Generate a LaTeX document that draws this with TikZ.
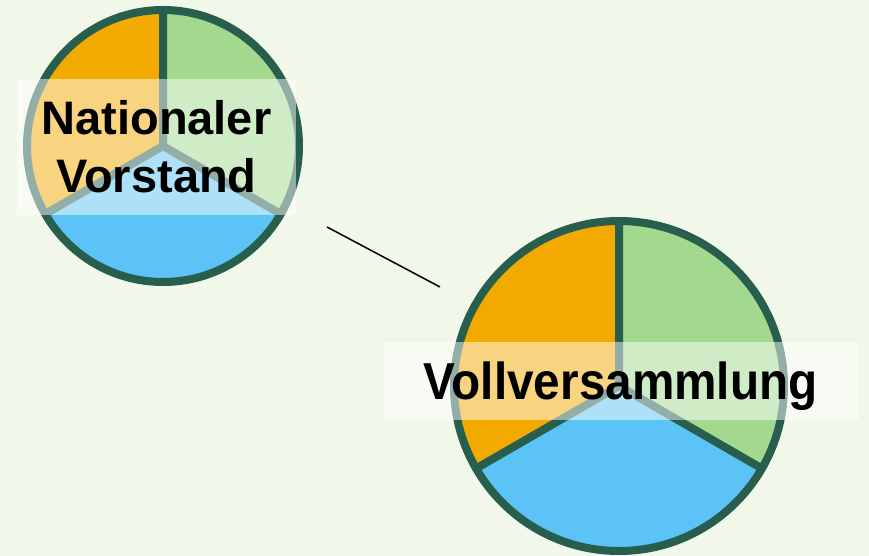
\documentclass[tikz,border=0pt]{standalone}
\usepackage{fontspec}
\setmainfont{Liberation Sans}
\definecolor{bg}{HTML}{F1F8E9}
\definecolor{pieorange}{HTML}{F2AA00}
\definecolor{piegreen}{HTML}{A2D98E}
\definecolor{pieblue}{HTML}{5BC3F5}
\definecolor{pieline}{HTML}{275E4D}
\tikzset{
  rim/.style={draw=pieline, line width=8pt},
  labelbox/.style={fill=white, fill opacity=0.5, text opacity=1, inner sep=0pt,
    align=center, font=\fontsize{47}{58}\selectfont\bfseries},
  labeltext/.style={inner sep=0pt, font=\fontsize{47.7}{58}\selectfont\bfseries},
  link/.style={draw=black, line width=1.5pt}
}
\newcommand{\pie}[3]{% name, center, radius
  \coordinate (#1) at #2;
  \fill[pieorange] (#1) -- ++(90:#3) arc[start angle=90,end angle=210,radius=#3] -- cycle;
  \fill[pieblue] (#1) -- ++(210:#3) arc[start angle=210,end angle=330,radius=#3] -- cycle;
  \fill[piegreen] (#1) -- ++(330:#3) arc[start angle=330,end angle=450,radius=#3] -- cycle;
  \draw[rim] (#1) circle[radius=#3];
  \draw[rim] (#1) -- ++(90:#3) (#1) -- ++(210:#3) (#1) -- ++(330:#3);
}
\begin{document}
\begin{tikzpicture}[x=1pt,y=1pt]
\fill[bg] (0,0) rectangle (869,556);
\useasboundingbox (0,0) rectangle (869,556);
\pie{c1}{(163,410)}{136}
\pie{c2}{(619,170)}{165}
\node[labelbox, minimum width=279pt, minimum height=136pt] (nv) at (156.5,409) {Nationaler\\Vorstand};
\node[labelbox, minimum width=475pt, minimum height=78pt] (vv) at (621.5,175) {};
\node[labeltext, anchor=base] (vvt) at (620.5,156) {\scalebox{1}[1.09]{Vollversammlung}};
\coordinate (a) at (327,329);
\coordinate (b) at (440,269);
\draw[link] (a) -- (b);
\end{tikzpicture}
\end{document}
